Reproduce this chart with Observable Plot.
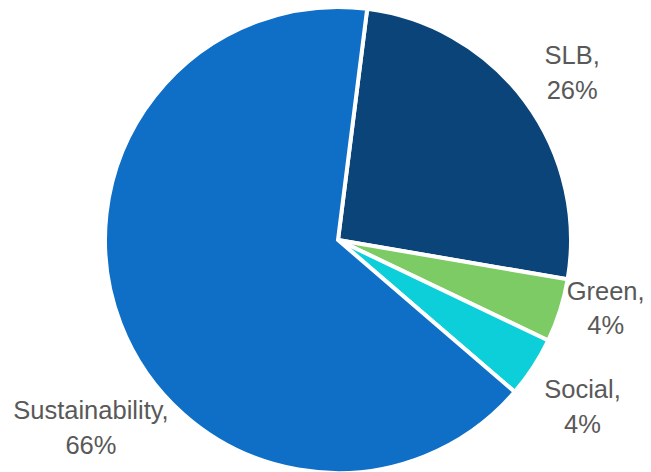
<!DOCTYPE html>
<html><head>
<meta charset="utf-8">
<script src="https://cdn.jsdelivr.net/npm/d3@7"></script>
<script src="https://cdn.jsdelivr.net/npm/@observablehq/plot@0.6"></script>
<style>body{margin:0;background:#fff}#chart svg{display:block}</style>
</head><body><div id="chart"></div>
<script>
// ---- data ----
const categories = ["SLB", "Green", "Social", "Sustainability"];
const shares = [25.7, 4.4, 4.2, 65.7];
const colors = ["#0b4479", "#7dcb64", "#0dcfd9", "#0f6ec6"];

// ---- layout ----
const W = 651, H = 472, cx = 338, cy = 240, R = 233;
const startDeg = 7.2;
// label placement: angle shift (deg) from slice mid-angle, and radius (px)
const labelLayout = {
  SLB: {shift: 0.5, r: 289},
  Green: {shift: -3.9, r: 275},
  Social: {shift: 0.8, r: 294},
  Sustainability: {shift: -15.7, r: 309}
};

const data = categories.map((c, i) => ({category: c, share: shares[i]}));
const rad = Math.PI / 180;
const arcs = d3.pie().sort(null).value(d => d.share)
  .startAngle(startDeg * rad).endAngle((startDeg + 360) * rad)(data);

const labelData = arcs.map(a => {
  const L = labelLayout[a.data.category];
  const ang = (a.startAngle + a.endAngle) / 2 + L.shift * rad;
  return {
    label: `${a.data.category},\n${Math.round(a.data.share)}%`,
    x: L.r * Math.sin(ang), y: -L.r * Math.cos(ang)
  };
});

const colorScale = Plot.scale({color: {type: "ordinal", domain: categories, range: colors}});

function slices(index, scales) {
  const arc = d3.arc().innerRadius(0).outerRadius(R);
  const g = d3.create("svg:g")
    .attr("transform", `translate(${scales.x(0)},${scales.y(0)})`);
  g.selectAll("path").data(arcs).join("path")
    .attr("d", arc)
    .attr("fill", d => colorScale.apply(d.data.category))
    .attr("stroke", "#fff")
    .attr("stroke-width", 4)
    .attr("stroke-linejoin", "miter");
  return g.node();
}

const chart = Plot.plot({
  width: W, height: H, margin: 0,
  x: {domain: [-cx, W - cx], range: [0, W], axis: null},
  y: {domain: [-cy, H - cy], range: [0, H], axis: null},
  marks: [
    slices,
    Plot.text(labelData, {
      x: "x", y: "y", text: "label",
      fontSize: 25.5, lineHeight: 1.36,
      fontFamily: "Liberation Sans, Arial, sans-serif",
      fill: "#595959", textAnchor: "middle"
    })
  ]
});
document.getElementById("chart").append(chart);
</script>
</body></html>
